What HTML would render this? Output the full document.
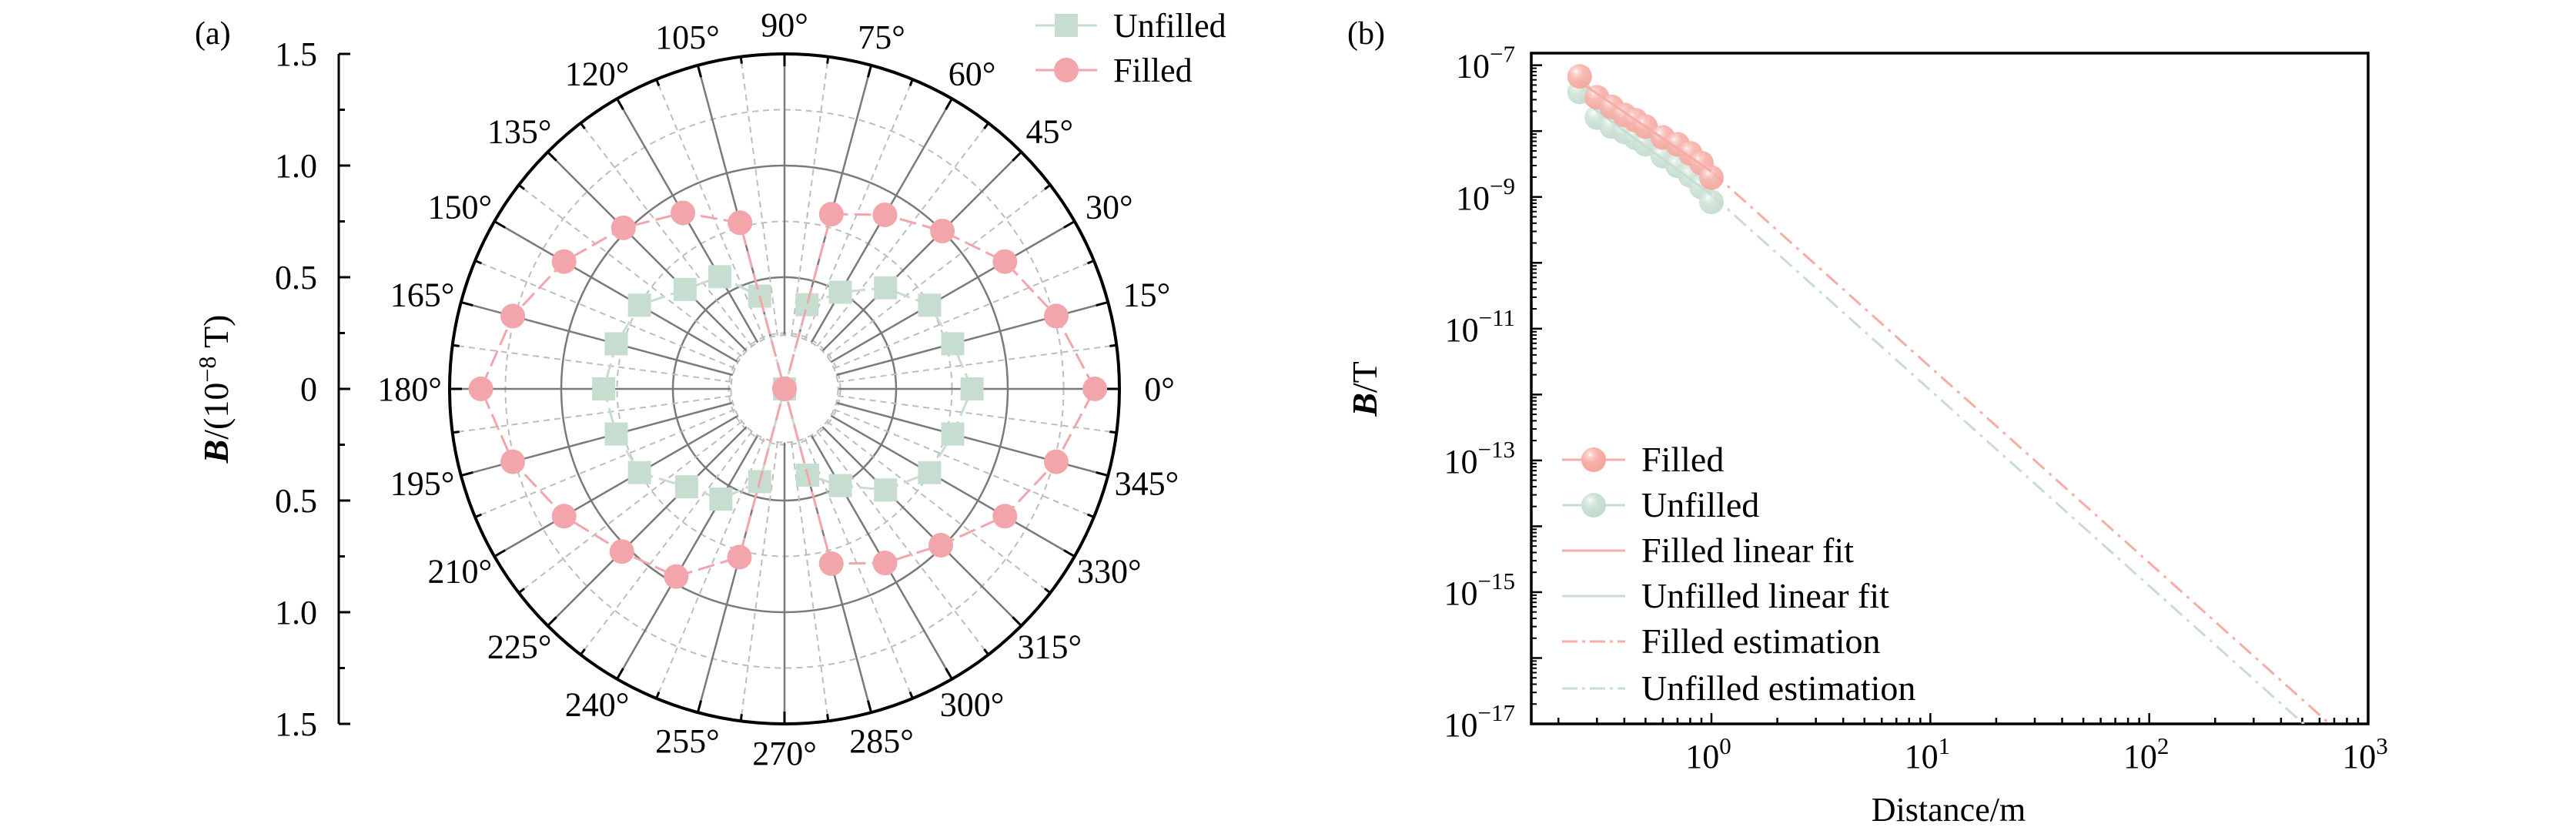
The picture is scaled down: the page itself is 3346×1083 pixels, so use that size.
<!DOCTYPE html>
<html><head><meta charset="utf-8"><style>
html,body{margin:0;padding:0;background:#fff;}
svg{display:block;font-family:"Liberation Serif",serif;}
</style></head><body>
<svg id="fig" width="3346" height="1083" viewBox="0 0 3346 1083" xmlns="http://www.w3.org/2000/svg">
<defs>
<radialGradient id="gp" cx="0.35" cy="0.3" r="0.7"><stop offset="0" stop-color="#fff"/><stop offset="0.15" stop-color="#fbd3cf"/><stop offset="0.45" stop-color="#f7b2ab"/><stop offset="1" stop-color="#f5a49c"/></radialGradient>
<radialGradient id="gg" cx="0.35" cy="0.3" r="0.7"><stop offset="0" stop-color="#fff"/><stop offset="0.15" stop-color="#e3efe8"/><stop offset="0.45" stop-color="#cde2d6"/><stop offset="1" stop-color="#c2dacd"/></radialGradient>
<clipPath id="clipb"><rect x="1989" y="69" width="1087" height="871"/></clipPath>
</defs>
<g id="pa"></g>
<g id="pb"></g>
</svg>
<script>
// ---- Panel (a) data ----
const angles = [0,15,30,45,60,75,90,105,120,135,150,165,180,195,210,225,240,255,270,285,300,315,330,345];
const filledB = [1.39,1.26,1.14,1.0,0.9,0.81,0,0.77,0.91,1.02,1.14,1.26,1.36,1.26,1.14,1.03,0.97,0.78,0,0.81,0.9,0.99,1.14,1.26];
const unfilledB = [0.84,0.78,0.75,0.64,0.5,0.39,0,0.43,0.58,0.63,0.75,0.78,0.81,0.78,0.75,0.62,0.57,0.43,0,0.4,0.5,0.64,0.75,0.78];
const radialTicks = ["1.5","1.0","0.5","0","0.5","1.0","1.5"];
// ---- Panel (b) data ----
const distances = [0.25,0.3,0.35,0.4,0.45,0.5,0.6,0.7,0.8,0.9,1.0];
const filledField = [6.76e-8,3.26e-8,2.33e-8,1.76e-8,1.46e-8,1.17e-8,8.0e-9,6.3e-9,4.6e-9,3.27e-9,1.97e-9];
const unfilledField = [3.93e-8,1.6e-8,1.17e-8,9.7e-9,7.9e-9,6.3e-9,4.17e-9,2.98e-9,2.13e-9,1.41e-9,8.4e-10];
const estSlope = [-2.97, -2.97];
const xTickExp = [0,1,2,3];
const yTickExp = [-7,-9,-11,-13,-15,-17];

const NS="http://www.w3.org/2000/svg";
function mk(parent,tag,attrs){const e=document.createElementNS(NS,tag);for(const k in attrs)e.setAttribute(k,attrs[k]);parent.appendChild(e);return e;}

// ===== Panel A =====
const pa=document.getElementById('pa');
const cx=1019, cy=505, R=435, rmax=1.5, hole=0.24;
const rs=v=>v/rmax*R;
function pol(r,a){const t=a*Math.PI/180;return [cx+rs(r)*Math.cos(t), cy-rs(r)*Math.sin(t)];}
[0.25,0.75,1.25].forEach(r=>{const c=mk(pa,'circle',{cx:cx,cy:cy,r:rs(r),fill:'none',stroke:'#bdbdbd','stroke-width':2,'stroke-dasharray':'8 6'});

});
[0.5,1.0].forEach(r=>{const c=mk(pa,'circle',{cx:cx,cy:cy,r:rs(r),fill:'none',stroke:'#7a7a7a','stroke-width':2.5});

});
for(let a=0;a<360;a+=7.5){const p1=pol(hole,a),p2=pol(1.5,a);const major=(a%15===0);
const l=mk(pa,'line',{x1:p1[0],y1:p1[1],x2:p2[0],y2:p2[1],stroke:major?'#7a7a7a':'#bdbdbd','stroke-width':major?2.5:2,'stroke-dasharray':major?'none':'8 6'});

}
mk(pa,'circle',{cx:cx,cy:cy,r:rs(hole),fill:'#fff',stroke:'#bdbdbd','stroke-width':2,'stroke-dasharray':'8 6'});
const outer=mk(pa,'circle',{cx:cx,cy:cy,r:R,fill:'none',stroke:'#000','stroke-width':4});


for(let a=0;a<360;a+=7.5){const t=a*Math.PI/180;const maj=a%15===0;const L=maj?16:9;
mk(pa,'line',{x1:cx+R*Math.cos(t),y1:cy-R*Math.sin(t),x2:cx+(R-L)*Math.cos(t),y2:cy-(R-L)*Math.sin(t),stroke:'#000','stroke-width':3});}
angles.forEach(a=>{const t=a*Math.PI/180;const x=cx+(R+52)*Math.cos(t),y=cy-(R+38)*Math.sin(t);
const tx=mk(pa,'text',{x:x,y:y+15,'font-size':44,'text-anchor':'middle'});tx.textContent=a+'°';

});
function series(vals,color,shape,name){
 const pts=angles.map((a,i)=>pol(vals[i],a));pts.push(pts[0]);
 const pl=mk(pa,'polyline',{points:pts.map(p=>p.join(',')).join(' '),fill:'none',stroke:color,'stroke-width':3,'stroke-dasharray':'22 8'});
 
 
 angles.forEach((a,i)=>{const p=pol(vals[i],a);let m;
  if(shape==='sq') m=mk(pa,'rect',{x:p[0]-15,y:p[1]-15,width:30,height:30,fill:color});
  else m=mk(pa,'circle',{cx:p[0],cy:p[1],r:16,fill:color});
  
  });
}
series(unfilledB,'#c6ddd0','sq','unfilled');
series(filledB,'#f2a5ab','c','filled');
const ax=440;
mk(pa,'line',{x1:ax,y1:cy-R,x2:ax,y2:cy+R,stroke:'#000','stroke-width':3});
radialTicks.forEach((lab,i)=>{const y=cy-R+i*(R/1.5)*0.5;
mk(pa,'line',{x1:ax,y1:y,x2:ax+15,y2:y,stroke:'#000','stroke-width':3});
const t=mk(pa,'text',{x:ax-28,y:y+15,'font-size':44,'text-anchor':'end'});t.textContent=lab;


if(i<radialTicks.length-1){const ym=y+R/6;mk(pa,'line',{x1:ax,y1:ym,x2:ax+8,y2:ym,stroke:'#000','stroke-width':3});}});
const yl=mk(pa,'text',{x:0,y:0,'font-size':46,'text-anchor':'middle',transform:'translate(296,505) rotate(-90)'});
yl.innerHTML='<tspan font-style="italic" font-weight="bold">B</tspan>/(10<tspan dy="-16" font-size="32">−8</tspan><tspan dy="16"> T)</tspan>';


const la=mk(pa,'text',{x:253,y:57,'font-size':42});la.textContent='(a)';


const lg=mk(pa,'g',{});


mk(lg,'line',{x1:1345,y1:33,x2:1425,y2:33,stroke:'#c6ddd0','stroke-width':3});
mk(lg,'rect',{x:1370,y:18,width:30,height:30,fill:'#c6ddd0'});
let t1=mk(lg,'text',{x:1446,y:48,'font-size':44});t1.textContent='Unfilled';


mk(lg,'line',{x1:1345,y1:91,x2:1425,y2:91,stroke:'#f2a5ab','stroke-width':3});
mk(lg,'circle',{cx:1385,cy:91,r:16,fill:'#f2a5ab'});
let t2=mk(lg,'text',{x:1446,y:106,'font-size':44});t2.textContent='Filled';



// ===== Panel B =====
const pb=document.getElementById('pb');
const L=1989,Rr=3076,T=69,Bt=940;
const x0=2223, dec=(Rr-x0)/3;
const X=d=>x0+Math.log10(d)*dec;
const ydec=(Bt-84.7)/10;
const Y=b=>84.7+(-7-Math.log10(b))*ydec;
mk(pb,'rect',{x:L,y:T,width:Rr-L,height:Bt-T,fill:'none',stroke:'#000','stroke-width':3.5});
for(let e=-1;e<3;e++)for(let k=1;k<10;k++){const d=k*Math.pow(10,e);const x=X(d);if(x<L||x>Rr)continue;
mk(pb,'line',{x1:x,y1:Bt,x2:x,y2:Bt-(k===1?14:8),stroke:'#000','stroke-width':2.5});}
mk(pb,'line',{x1:X(1000),y1:Bt,x2:X(1000),y2:Bt-14,stroke:'#000','stroke-width':2.5});
xTickExp.forEach(e=>{const t=mk(pb,'text',{x:X(Math.pow(10,e))-4,y:997,'font-size':44,'text-anchor':'middle'});
t.innerHTML='10<tspan dy="-18" font-size="31">'+e+'</tspan>';

});
for(let e=-17;e<-6;e++){mk(pb,'line',{x1:L,y1:Y(Math.pow(10,e)),x2:L+14,y2:Y(Math.pow(10,e)),stroke:'#000','stroke-width':2.5});
 for(let k=2;k<10;k++){const y=Y(k*Math.pow(10,e));if(y<T)continue;mk(pb,'line',{x1:L,y1:y,x2:L+7,y2:y,stroke:'#000','stroke-width':2});}}
yTickExp.forEach(e=>{const t=mk(pb,'text',{x:1968,y:Y(Math.pow(10,e))+16,'font-size':44,'text-anchor':'end'});
t.innerHTML='10<tspan dy="-20" font-size="31">−'+(-e)+'</tspan>';

});
const xt=mk(pb,'text',{x:2531,y:1066,'font-size':44,'text-anchor':'middle'});xt.textContent='Distance/m';


const yt=mk(pb,'text',{x:0,y:0,'font-size':46,'text-anchor':'middle',transform:'translate(1788,505) rotate(-90)'});
yt.innerHTML='<tspan font-style="italic" font-weight="bold">B</tspan>/T';


const lb=mk(pb,'text',{x:1750,y:57,'font-size':42});lb.textContent='(b)';


const cg=mk(pb,'g',{'clip-path':'url(#clipb)'});
function fit(arr){const xs=distances.map(Math.log10),ys=arr.map(Math.log10);const n=xs.length;
 const mx=xs.reduce((a,b)=>a+b)/n,my=ys.reduce((a,b)=>a+b)/n;let sxy=0,sxx=0;
 xs.forEach((x,i)=>{sxy+=(x-mx)*(ys[i]-my);sxx+=(x-mx)*(x-mx);});const m=sxy/sxx;return [m,my-m*mx];}
const sets=[[filledField,'url(#gp)','#f6ada5','filled',0],[unfilledField,'url(#gg)','#c6ddd0','unfilled',1]];
const fits=sets.map(s=>fit(s[0]));
sets.forEach(([arr,g,c,n,si])=>{const [m,b]=fits[si];const yEnd=b;
 const est=mk(cg,'line',{x1:X(1),y1:Y(Math.pow(10,yEnd)),x2:X(2000),y2:Y(Math.pow(10,yEnd+estSlope[si]*Math.log10(2000))),stroke:c,'stroke-width':3,'stroke-dasharray':'20 8 4 8'});
 
 });
[sets[1],sets[0]].forEach(([arr,g,c,n,si])=>{
 distances.forEach((d,i)=>{const m=mk(cg,'circle',{cx:X(d),cy:Y(arr[i]),r:16,fill:g,opacity:0.9});
 
 });
 const [m,b]=fits[si];const d0=distances[0];
 const fl=mk(cg,'line',{x1:X(d0),y1:Y(Math.pow(10,b+m*Math.log10(d0))),x2:X(1),y2:Y(Math.pow(10,b)),stroke:c,'stroke-width':3});
 
 
});
const leg=mk(pb,'g',{});


const entries=[['Filled','#f6ada5','m','url(#gp)'],['Unfilled','#c6ddd0','m','url(#gg)'],['Filled linear fit','#f6ada5','s'],['Unfilled linear fit','#c6ddd0','s'],['Filled estimation','#f6ada5','d'],['Unfilled estimation','#c6ddd0','d']];
const ly=[597,656,715,774,833,894];
entries.forEach((e,i)=>{const y=ly[i];
 mk(leg,'line',{x1:2029,y1:y,x2:2111,y2:y,stroke:e[1],'stroke-width':3,'stroke-dasharray':e[2]==='d'?'20 6 4 6':'none'});
 if(e[2]==='m')mk(leg,'circle',{cx:2070,cy:y,r:16,fill:e[3]});
 const t=mk(leg,'text',{x:2132,y:y+15,'font-size':46});t.textContent=e[0];
 
 });
</script>
</body></html>
